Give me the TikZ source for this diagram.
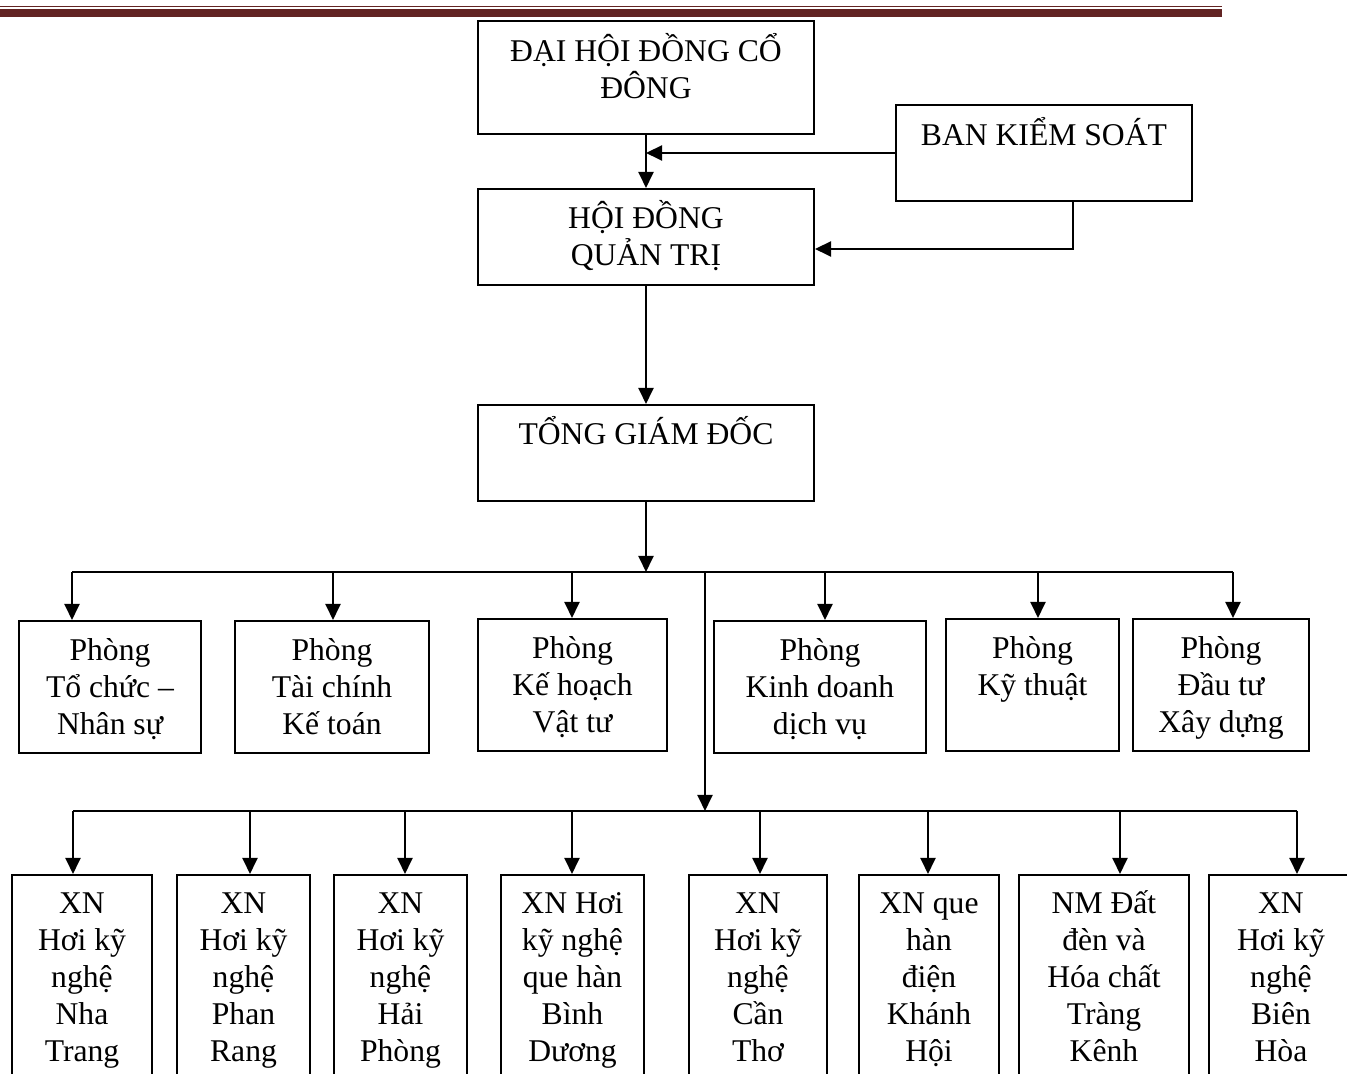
\documentclass[tikz,border=0pt]{standalone}
\usepackage{fontspec}
\setmainfont{Liberation Serif}
\usepackage{tikz}
\usetikzlibrary{calc, arrows.meta}
\newlength\pxu
\setlength\pxu{0.01cm}
\definecolor{hdr}{RGB}{98,36,35}

\begin{document}
\begin{tikzpicture}[x=0.01cm, y=-0.01cm,
        box/.style={draw, line width=0.02cm, inner sep=0pt, anchor=north west,
            font=\fontsize{9}{10.5}\selectfont},
        arr/.style={line width=0.02cm, -{Triangle[length=0.16cm, width=0.15cm]}}]
            \useasboundingbox (0,0) rectangle (1347,1074);
            \clip (0,0) rectangle (1347,1074);
            % header rules
            \fill[hdr] (0,6) rectangle (1222,7.5);
            \fill[hdr] (0,9.3) rectangle (1222,17.3);
            % top boxes
            \node[box] (dhcd) at (477,20) {\parbox[c][113\pxu][t]{336\pxu}{\centering\rule{0pt}{41\pxu}ĐẠI HỘI ĐỒNG CỔ\\ĐÔNG}};
            \node[box] (bks) at (895,104) {\parbox[c][96\pxu][t]{296\pxu}{\centering\rule{0pt}{41\pxu}BAN KIỂM SOÁT}};
            \node[box] (hdqt) at (477,188) {\parbox[c][96\pxu][t]{336\pxu}{\centering\rule{0pt}{40\pxu}HỘI ĐỒNG\\QUẢN TRỊ}};
            \node[box] (tgd) at (477,404) {\parbox[c][96\pxu][t]{336\pxu}{\centering\rule{0pt}{40\pxu}TỔNG GIÁM ĐỐC}};
            % phong ban
            \node[box] (p1) at (18,620) {\parbox[c][132\pxu][t]{182\pxu}{\centering\rule{0pt}{40\pxu}Phòng\\Tổ chức –\\Nhân sự}};
            \node[box] (p2) at (234,620) {\parbox[c][132\pxu][t]{194\pxu}{\centering\rule{0pt}{40\pxu}Phòng\\Tài chính\\Kế toán}};
            \node[box] (p3) at (477,618) {\parbox[c][132\pxu][t]{189\pxu}{\centering\rule{0pt}{40\pxu}Phòng\\Kế hoạch\\Vật tư}};
            \node[box] (p4) at (713,620) {\parbox[c][132\pxu][t]{212\pxu}{\centering\rule{0pt}{40\pxu}Phòng\\Kinh doanh\\dịch vụ}};
            \node[box] (p5) at (945,618) {\parbox[c][132\pxu][t]{173\pxu}{\centering\rule{0pt}{40\pxu}Phòng\\Kỹ thuật}};
            \node[box] (p6) at (1132,618) {\parbox[c][132\pxu][t]{176\pxu}{\centering\rule{0pt}{40\pxu}Phòng\\Đầu tư\\Xây dựng}};
            % xi nghiep
            \node[box] (x1) at (11,874) {\parbox[c][220\pxu][t]{140\pxu}{\centering\rule{0pt}{39\pxu}XN\\Hơi kỹ\\nghệ\\Nha\\Trang}};
            \node[box] (x2) at (176,874) {\parbox[c][220\pxu][t]{133\pxu}{\centering\rule{0pt}{39\pxu}XN\\Hơi kỹ\\nghệ\\Phan\\Rang}};
            \node[box] (x3) at (333,874) {\parbox[c][220\pxu][t]{133\pxu}{\centering\rule{0pt}{39\pxu}XN\\Hơi kỹ\\nghệ\\Hải\\Phòng}};
            \node[box] (x4) at (500,874) {\parbox[c][220\pxu][t]{143\pxu}{\centering\rule{0pt}{39\pxu}XN Hơi\\kỹ nghệ\\que hàn\\Bình\\Dương}};
            \node[box] (x5) at (688,874) {\parbox[c][220\pxu][t]{138\pxu}{\centering\rule{0pt}{39\pxu}XN\\Hơi kỹ\\nghệ\\Cần\\Thơ}};
            \node[box] (x6) at (858,874) {\parbox[c][220\pxu][t]{140\pxu}{\centering\rule{0pt}{39\pxu}XN que\\hàn\\điện\\Khánh\\Hội}};
            \node[box] (x7) at (1018,874) {\parbox[c][220\pxu][t]{170\pxu}{\centering\rule{0pt}{39\pxu}NM Đất\\đèn và\\Hóa chất\\Tràng\\Kênh}};
            \node[box] (x8) at (1208,874) {\parbox[c][220\pxu][t]{144\pxu}{\centering\rule{0pt}{39\pxu}XN\\Hơi kỹ\\nghệ\\Biên\\Hòa}};
            % connectors
            \draw[arr] (dhcd.south) -- (hdqt.north);
            \draw[arr] (bks.west) -- (bks.west -| dhcd.south);
            \draw[arr] ($(bks.south)+(29,0)$) |- ($(hdqt.east)+(0,12)$);
            \draw[arr] (hdqt.south) -- (tgd.north);
            \coordinate (bus1) at (645,572);
            \coordinate (bus1w) at (72,572);
            \coordinate (bus1e) at (1233,572);
            \coordinate (bus1b) at (705,572);
            \coordinate (bus2) at (705,811);
            \coordinate (bus2w) at (73,811);
            \coordinate (bus2e) at (1297,811);
            \draw[arr] (tgd.south) -- (tgd.south |- bus1);
            \draw[line width=0.02cm] (bus1w) -- (bus1e);
            \foreach \x/\n in {72/p1, 333/p2, 572/p3, 825/p4, 1038/p5, 1233/p6} {
                \coordinate (t\n) at (\x,572);
                \draw[arr] (t\n) -- (t\n |- \n.north);
            }
            \draw[arr] (bus1b) -- (bus2);
            \draw[line width=0.02cm] (bus2w) -- (bus2e);
            \foreach \x/\n in {73/x1, 250/x2, 405/x3, 572/x4, 760/x5, 928/x6, 1120/x7, 1297/x8} {
                \coordinate (t\n) at (\x,811);
                \draw[arr] (t\n) -- (t\n |- \n.north);
            }
        \end{tikzpicture}
\end{document}
